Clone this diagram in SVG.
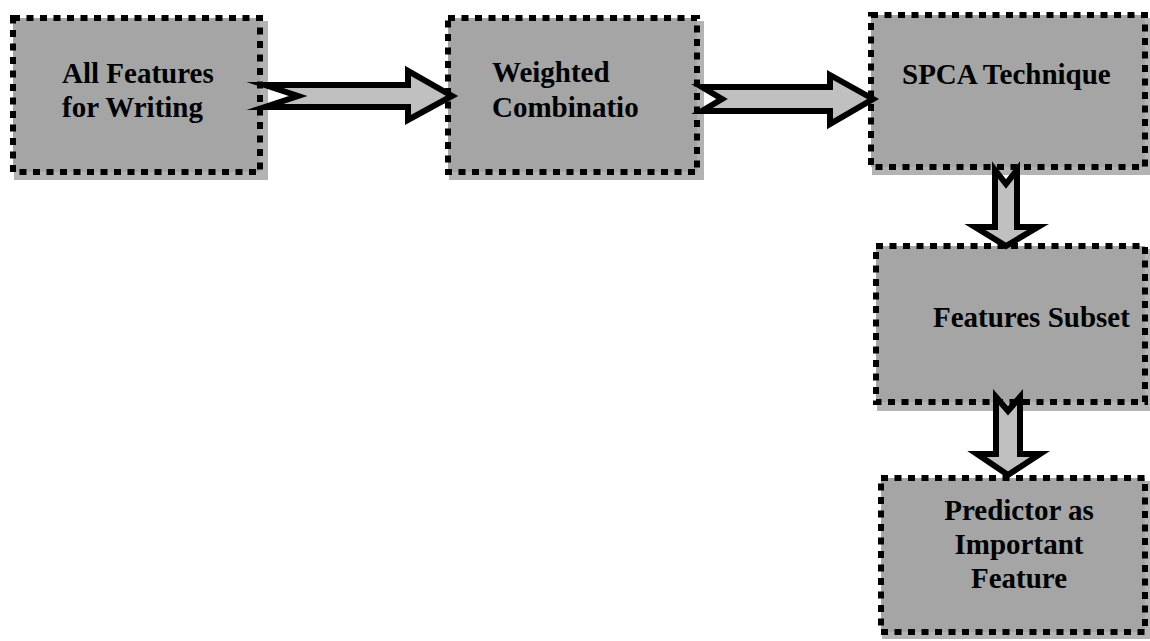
<svg xmlns="http://www.w3.org/2000/svg" width="1150" height="641" viewBox="0 0 1150 641">
<style>
.box{fill:#a5a5a5;stroke:#000;stroke-width:6;stroke-dasharray:7 6.5}
.sh{fill:#b3b3b3}
.t{font-family:"Liberation Serif","Times New Roman",serif;font-weight:bold;font-size:29px;fill:#000}
.arr{fill:#c0c0c0;stroke:#000;stroke-width:6;stroke-linejoin:miter;stroke-miterlimit:10}
</style>
<rect width="1150" height="641" fill="#fff"/>
<g id="node1">
<rect class="sh" x="14" y="21" width="254" height="159"/>
<rect class="box" x="13" y="18" width="247" height="154"/>
<text class="t" x="62" y="83">All Features</text>
<text class="t" x="62" y="117">for Writing</text>
</g>
<g id="node2">
<rect class="sh" x="449" y="21" width="255" height="159"/>
<rect class="box" x="448" y="18" width="249" height="154"/>
<text class="t" x="492" y="82">Weighted</text>
<text class="t" x="492" y="117">Combinatio</text>
</g>
<g id="node3">
<rect class="sh" x="872" y="18" width="278" height="157"/>
<rect class="box" x="871" y="15" width="274" height="152"/>
<text class="t" x="902" y="84">SPCA Technique</text>
</g>
<g id="node4">
<rect class="sh" x="877" y="249" width="273" height="162"/>
<rect class="box" x="876" y="246" width="269" height="156"/>
<text class="t" x="933" y="327">Features Subset</text>
</g>
<g id="node5">
<rect class="sh" x="882" y="481" width="268" height="158"/>
<rect class="box" x="881" y="478" width="264" height="154"/>
<text class="t" x="1019" y="520" text-anchor="middle">Predictor as</text>
<text class="t" x="1019" y="554" text-anchor="middle">Important</text>
<text class="t" x="1019" y="588" text-anchor="middle">Feature</text>
</g>
<g id="connectors">
<path class="arr" d="M265,85 L408,85 L408,71 L452,96 L408,120 L408,107 L265,107 L298,96 Z"/>
<path class="arr" d="M702,87 L830,87 L830,75 L873,99 L830,124 L830,111 L702,111 L722,99 Z"/>
<path class="arr" d="M995,170 L1006,184 L1017,170 L1017,227 L1038,227 L1006,246 L975,227 L995,227 Z"/>
<path class="arr" d="M996,397 L1008,411 L1020,397 L1020,454 L1040,454 L1008,475 L977,454 L996,454 Z"/>
</g>
</svg>
